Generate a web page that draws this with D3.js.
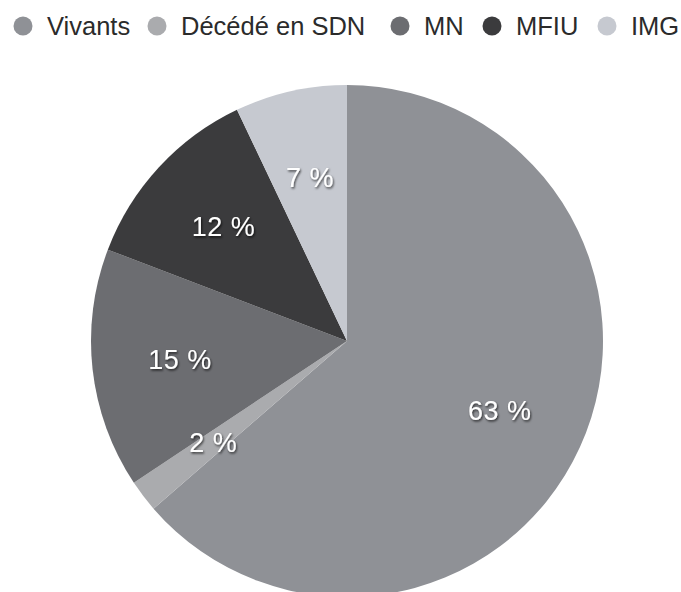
<!DOCTYPE html>
<html>
<head>
<meta charset="utf-8">
<script src="https://cdn.jsdelivr.net/npm/d3@7"></script>
<style>
  body { margin: 0; background: #fff; }
  svg { display: block; font-family: "Liberation Sans", Arial, sans-serif; }
</style>
</head>
<body>
<div id="chart"></div>
<script>
// chart data
let categories = ["Vivants", "Décédé en SDN", "MN", "MFIU", "IMG"];
let values = [63, 2, 15, 12, 7];
let labels = ["63 %", "2 %", "15 %", "12 %", "7 %"];
let colors = ["#8f9196", "#aaabae", "#6c6d71", "#3b3b3d", "#c6c9d0"];

let width = 681;
let height = 592;
let radius = 256;
let cx = 347;
let cy = 341;

let svg = d3.select("#chart").append("svg")
  .attr("width", width)
  .attr("height", height);

// soft shadow under the percent labels
let filter = svg.append("defs").append("filter")
  .attr("id", "shadow")
  .attr("x", "-20%").attr("y", "-20%")
  .attr("width", "140%").attr("height", "140%");
filter.append("feDropShadow")
  .attr("dx", 1)
  .attr("dy", 1.5)
  .attr("stdDeviation", 1.2)
  .attr("flood-color", "#000")
  .attr("flood-opacity", 0.7);

let color = d3.scaleOrdinal()
  .domain(categories)
  .range(colors);

let pie = d3.pie()
  .sort(null)
  .value(function (d, i) { return values[i]; });

let arcs = pie(categories);

let arc = d3.arc()
  .innerRadius(0)
  .outerRadius(radius);

let labelArc = d3.arc()
  .innerRadius(168)
  .outerRadius(168);

let g = svg.append("g")
  .attr("transform", `translate(${cx}, ${cy})`);

g.selectAll("path")
  .data(arcs)
  .enter()
  .append("path")
  .attr("d", arc)
  .style("fill", function (d) { return color(d.data); });

g.selectAll("text")
  .data(arcs)
  .enter()
  .append("text")
  .attr("transform", function (d) {
    let c = labelArc.centroid(d);
    return `translate(${c[0]}, ${c[1]})`;
  })
  .attr("text-anchor", "middle")
  .attr("dy", "0.35em")
  .attr("filter", "url(#shadow)")
  .style("fill", "#fff")
  .style("font-size", "27px")
  .style("letter-spacing", "0.5px")
  .text(function (d, i) { return labels[i]; });

// legend along the top
let legendX = [23, 157, 400, 492, 607];
let legend = svg.append("g");

legend.selectAll("circle")
  .data(categories)
  .enter()
  .append("circle")
  .attr("cx", function (d, i) { return legendX[i]; })
  .attr("cy", 26)
  .attr("r", 9.5)
  .style("fill", function (d) { return color(d); });

legend.selectAll("text")
  .data(categories)
  .enter()
  .append("text")
  .attr("x", function (d, i) { return legendX[i] + 24; })
  .attr("y", 35)
  .style("fill", "#2b2b2b")
  .style("font-size", "25.5px")
  .text(function (d) { return d; });
</script>
</body>
</html>
